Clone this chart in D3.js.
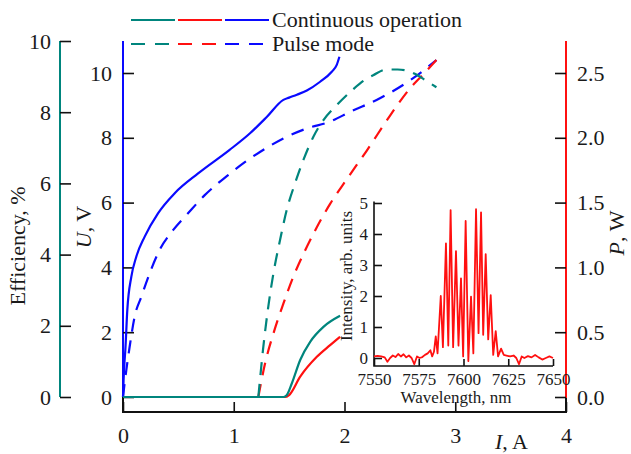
<!DOCTYPE html>
<html>
<head>
<meta charset="utf-8">
<script src="https://cdn.jsdelivr.net/npm/d3@7"></script>
<style>
body { margin: 0; background: #fff; }
svg text { font-family: "Liberation Serif", "Times New Roman", serif; fill: #1a1a1a; }
</style>
</head>
<body>
<script>
// current I (A) vs value pairs
var effCw = [[0,0],[1.45,0],[1.478,0.05],[1.524,0.38],[1.6,1.04],[1.69,1.55],[1.81,1.97],[1.96,2.28]];
var effPulse = [[1.222,0],[1.267,1.41],[1.312,2.54],[1.358,3.47],[1.418,4.41],[1.478,5.25],[1.553,6.0],[1.629,6.66],[1.719,7.31],[1.81,7.78],[1.93,8.2],[2.08,8.65],[2.17,8.88],[2.26,9.04],[2.38,9.2],[2.48,9.2],[2.56,9.17],[2.64,9.07],[2.73,8.9],[2.83,8.7]];
var powerCw = [[0,0],[1.46,0],[1.5,0.015],[1.6,0.157],[1.75,0.31],[1.87,0.4],[1.96,0.465]];
var powerPulse = [[1.222,0],[1.283,0.26],[1.358,0.49],[1.448,0.72],[1.539,0.93],[1.644,1.13],[1.75,1.31],[1.87,1.49],[2.02,1.68],[2.2,1.9],[2.41,2.17],[2.59,2.38],[2.7,2.48],[2.83,2.6]];
var voltCw = [[0,0],[0.005,0.5],[0.012,1.0],[0.021,1.45],[0.039,2.69],[0.075,3.71],[0.12,4.33],[0.196,4.95],[0.316,5.67],[0.467,6.29],[0.678,6.9],[0.96,7.62],[1.147,8.14],[1.3,8.65],[1.448,9.17],[1.5,9.24],[1.57,9.33],[1.66,9.46],[1.78,9.73],[1.885,10.04],[1.93,10.25],[1.954,10.5]];
var voltPulse = [[0,0],[0.012,0.35],[0.03,0.83],[0.06,1.55],[0.105,2.48],[0.166,3.1],[0.241,3.82],[0.331,4.54],[0.452,5.15],[0.587,5.67],[0.738,6.23],[0.949,6.85],[1.1,7.25],[1.24,7.57],[1.448,7.98],[1.66,8.29],[1.87,8.5],[2.05,8.8],[2.32,9.22],[2.62,9.84],[2.83,10.4]];

// inset spectrum: wavelength (nm) vs intensity (arb. units)
var spectrum = [[7550,0.05],[7552,0.07],[7554,0.05],[7556,0.02],[7557.5,-0.12],[7559,0],[7560.5,0.08],[7562,0.03],[7563.5,0.13],[7565,0.05],[7566.5,0.12],[7568,0.02],[7569.5,0.08],[7571,0],[7572.5,-0.2],[7574,0.05],[7575.5,0],[7577,0.03],[7578.5,0.1],[7580,0.15],[7581.5,0.25],[7582.5,0.05],[7583.5,0.2],[7584.5,0.7],[7585.5,0.15],[7587.3,2.0],[7588.5,0.35],[7590.2,3.7],[7591.5,0.4],[7592.8,4.77],[7594.2,0.35],[7595.8,3.45],[7597.2,0.4],[7598.6,2.57],[7599.8,0.05],[7601.2,4.42],[7602.7,-0.1],[7604.2,1.98],[7605.5,0.15],[7607,4.8],[7608.4,0.8],[7609.8,4.7],[7611,0.75],[7612.4,3.35],[7613.8,0.6],[7615.2,2.03],[7616.6,0.1],[7618,0.87],[7619.3,0.05],[7621,0.3],[7622.5,0.1],[7624,0.08],[7626,0.05],[7628,0.08],[7629.5,0],[7631,-0.2],[7632.5,0.05],[7634,0],[7636,0.06],[7638,0.02],[7640,0.1],[7642,0.02],[7644,-0.05],[7646,0],[7648,0.05],[7650,0]];

var currentTicks = [0,1,2,3,4];
var effTicks = [0,2,4,6,8,10];
var voltTicks = [0,2,4,6,8,10];
var powerTicks = [0,0.5,1.0,1.5,2.0,2.5];
var wlTicks = [7550,7575,7600,7625,7650];
var intTicks = [0,1,2,3,4,5];

var legendLabels = ["Continuous operation", "Pulse mode"];

var teal = "#00857d", red = "#ff1010", blue = "#0a0aff";
var dash = "13,9";
var W = 631, H = 454;

var svg = d3.select("body").append("svg")
    .attr("width", W).attr("height", H);

var x = d3.scaleLinear().domain([0, 4]).range([123, 566]);
var yEff = d3.scaleLinear().domain([0, 10]).range([397, 41]);
var yU = d3.scaleLinear().domain([0, 10]).range([397, 73]);
var yP = d3.scaleLinear().domain([0, 2.5]).range([397, 73]);

function styleAxis(g, size) {
    g.select(".domain").remove();
    g.selectAll(".tick line").attr("stroke", "#111").attr("stroke-width", 1.6);
    g.selectAll(".tick text").attr("font-size", size).attr("fill", "#1a1a1a");
}

// frame lines
svg.append("line").attr("x1", 60).attr("x2", 60).attr("y1", 41).attr("y2", 397)
    .attr("stroke", teal).attr("stroke-width", 2);
svg.append("line").attr("x1", 123).attr("x2", 123).attr("y1", 41).attr("y2", 397)
    .attr("stroke", blue).attr("stroke-width", 2);
svg.append("line").attr("x1", 566).attr("x2", 566).attr("y1", 41).attr("y2", 398)
    .attr("stroke", red).attr("stroke-width", 2);
svg.append("path").attr("d", "M123,397V412H566V398")
    .attr("fill", "none").attr("stroke", "#111").attr("stroke-width", 2);

// axes
svg.append("g").attr("transform", "translate(0,412)")
    .call(d3.axisBottom(x).tickValues(currentTicks).tickFormat(d3.format("d")).tickSize(-10).tickPadding(15))
    .call(styleAxis, 22);
svg.append("g").attr("transform", "translate(60,0)")
    .call(d3.axisLeft(yEff).tickValues(effTicks).tickSize(-11).tickPadding(9))
    .call(styleAxis, 22);
svg.append("g").attr("transform", "translate(123,0)")
    .call(d3.axisLeft(yU).tickValues(voltTicks).tickSize(-11).tickPadding(11))
    .call(styleAxis, 22);
svg.append("g").attr("transform", "translate(566,0)")
    .call(d3.axisRight(yP).tickValues(powerTicks).tickFormat(d3.format(".1f")).tickSize(-11).tickPadding(11))
    .call(styleAxis, 22);

// axis titles
function vTitle(xp, yp, italic, rest, size) {
    var t = svg.append("text").attr("transform", "translate(" + xp + "," + yp + ") rotate(-90)")
        .attr("text-anchor", "middle").attr("font-size", size);
    if (italic) t.append("tspan").attr("font-style", "italic").text(italic);
    t.append("tspan").text(rest);
}
vTitle(25, 246, null, "Efficiency, %", 22);
vTitle(91, 227, "U", ", V", 22);
vTitle(624, 233, "P", ", W", 22);

var xt = svg.append("text").attr("x", 495).attr("y", 449).attr("font-size", 22);
xt.append("tspan").attr("font-style", "italic").text("I");
xt.append("tspan").text(", A");

// curves
var curves = [
    { data: voltCw, y: yU, color: blue, dash: null },
    { data: voltPulse, y: yU, color: blue, dash: dash },
    { data: powerCw, y: yP, color: red, dash: null },
    { data: powerPulse, y: yP, color: red, dash: dash },
    { data: effCw, y: yEff, color: teal, dash: null },
    { data: effPulse, y: yEff, color: teal, dash: dash }
];
curves.forEach(function(c) {
    var line = d3.line()
        .x(d => x(d[0]))
        .y(d => c.y(d[1]))
        .curve(d3.curveMonotoneX);
    svg.append("path").datum(c.data)
        .attr("d", line)
        .attr("fill", "none")
        .attr("stroke", c.color)
        .attr("stroke-width", 2.2)
        .attr("stroke-dasharray", c.dash);
});

// legend
var legendColors = [teal, red, blue];
legendLabels.forEach(function(lbl, row) {
    var ly = 20 + row * 24;
    legendColors.forEach(function(col, i) {
        svg.append("line")
            .attr("x1", 131 + i * 47).attr("x2", (row ? 169 : 175) + i * 47)
            .attr("y1", ly).attr("y2", ly)
            .attr("stroke", col).attr("stroke-width", 2.2)
            .attr("stroke-dasharray", row ? "14,10" : null);
    });
    svg.append("text").attr("x", 272).attr("y", ly + 7)
        .attr("font-size", 22).text(lbl);
});

// inset spectrum
var xs = d3.scaleLinear().domain([7550, 7650]).range([374, 553]);
var ys = d3.scaleLinear().domain([0, 5]).range([358, 203]);

var inset = svg.append("g");
inset.append("path").attr("d", "M374,201.5V366H553")
    .attr("fill", "none").attr("stroke", "#111").attr("stroke-width", 1.6);
inset.append("g").attr("transform", "translate(0,366)")
    .call(d3.axisBottom(xs).tickValues(wlTicks).tickFormat(d3.format("d")).tickSize(-7).tickPadding(7))
    .call(styleAxis, 17);
inset.append("g").attr("transform", "translate(374,0)")
    .call(d3.axisLeft(ys).tickValues(intTicks).tickFormat(d3.format("d")).tickSize(-8).tickPadding(6))
    .call(styleAxis, 17);
inset.append("text").attr("x", 456).attr("y", 403)
    .attr("text-anchor", "middle").attr("font-size", 17).text("Wavelength, nm");
inset.append("text").attr("transform", "translate(352,276) rotate(-90)")
    .attr("text-anchor", "middle").attr("font-size", 17).text("Intensity, arb. units");
inset.append("path").datum(spectrum)
    .attr("d", d3.line().x(d => xs(d[0])).y(d => ys(d[1])))
    .attr("fill", "none").attr("stroke", red).attr("stroke-width", 1.8)
    .attr("stroke-linejoin", "round");
</script>
</body>
</html>
